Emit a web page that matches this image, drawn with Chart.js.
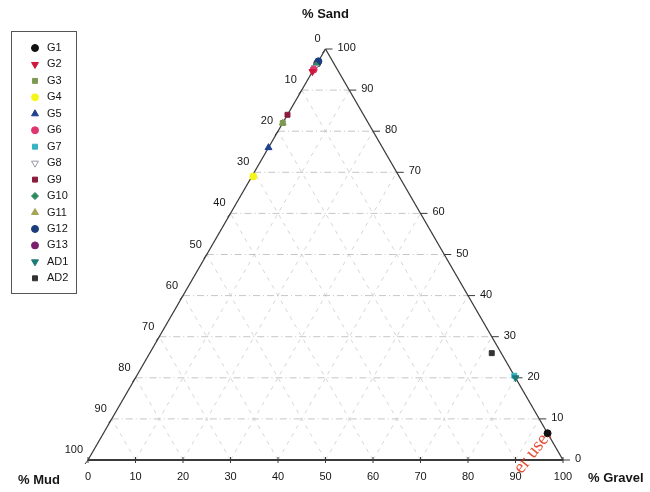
<!DOCTYPE html>
<html lang="en">
<head>
<meta charset="UTF-8">
<title>Ternary diagram - Sand / Gravel / Mud</title>
<script src="https://cdn.jsdelivr.net/npm/chart.js@4.4.0/dist/chart.umd.min.js"></script>
<style>
  body { margin: 0; background: #fff; }
  #box { position: relative; width: 650px; height: 492px; }
</style>
</head>
<body>
<div id="box"><canvas id="tri" width="650" height="492"></canvas></div>
<script>
/* ---------- samples (percent) ---------- */
const samples = ['G1', 'G2', 'G3', 'G4', 'G5', 'G6', 'G7', 'G8', 'G9', 'G10', 'G11', 'G12', 'G13', 'AD1', 'AD2'];
const sand    = [6.5, 94.5, 82, 69, 76, 95, 20.5, 95.5, 84, 96, 82, 97, 96.5, 20, 26];
const gravel  = [93.5, 0, 0, 0.3, 0, 0, 79.5, 0, 0, 0, 0, 0, 0, 80, 72];
const mud     = [0, 5.5, 18, 30.7, 24, 5, 0, 4.5, 16, 4, 18, 3, 3.5, 0, 2];
const tickValues = [0, 10, 20, 30, 40, 50, 60, 70, 80, 90, 100];

/* ---------- marker styles ---------- */
const markerFill   = ['#111111', '#d0173a', '#7d9a55', '#f5f51a', '#1f3f8f', '#e0356e', '#35b3c4', '#ffffff',
                      '#8a1c3c', '#2e8a5e', '#a3a455', '#1c3d7c', '#7a1f6e', '#1d7a78', '#333333'];
const markerBorder = ['#111111', '#d0173a', '#7d9a55', '#f5f51a', '#1f3f8f', '#e0356e', '#35b3c4', '#9a9aaa',
                      '#8a1c3c', '#2e8a5e', '#a3a455', '#1c3d7c', '#7a1f6e', '#1d7a78', '#333333'];
const markerShape  = ['circle', 'triangle', 'rect', 'circle', 'triangle', 'circle', 'rect', 'triangle',
                      'rect', 'rectRot', 'triangle', 'circle', 'circle', 'triangle', 'rect'];
const markerTurn   = [0, 180, 0, 0, 0, 0, 0, 180, 0, 0, 0, 0, 0, 180, 0];

const H = Math.sqrt(3) / 2;
const toXY = (s, g) => ({ x: g + s / 2, y: s * H });

const datasets = samples.map((name, i) => ({
  label: name,
  data: [toXY(sand[i], gravel[i])],
  backgroundColor: markerFill[i],
  borderColor: markerBorder[i],
  borderWidth: 1,
  pointStyle: markerShape[i],
  rotation: markerTurn[i],
  pointRadius: markerShape[i] === 'triangle' ? 4 : 3.5,
  order: name === 'G7' ? 1 : 0,   // keep AD1 on top of G7
  clip: false
}));

const FONT = '"Liberation Sans", Arial, sans-serif';

/* ---------- frame, grid, ticks, labels ---------- */
const ternaryFrame = {
  id: 'ternaryFrame',
  beforeDatasetsDraw(chart) {
    const c = chart.ctx, xs = chart.scales.x, ys = chart.scales.y;
    const pt = (s, g) => ({ x: xs.getPixelForValue(g + s / 2), y: ys.getPixelForValue(s * H) });
    const line = (a, b) => { c.beginPath(); c.moveTo(a.x, a.y); c.lineTo(b.x, b.y); c.stroke(); };
    c.save();

    // grid
    for (let v = 10; v < 100; v += 10) {
      c.strokeStyle = '#b8b8b8'; c.lineWidth = 0.8; c.setLineDash([7, 3, 1, 3]);
      line(pt(v, 0), pt(v, 100 - v));               // constant sand
      c.strokeStyle = '#cccccc'; c.setLineDash([4, 5]);
      line(pt(0, v), pt(100 - v, v));               // constant gravel
      line(pt(0, 100 - v), pt(100 - v, 0));         // constant mud
    }
    c.setLineDash([]);

    // triangle
    const A = pt(100, 0), L = pt(0, 0), R = pt(0, 100);
    c.strokeStyle = '#3a3a3a'; c.lineWidth = 1.3;
    line(A, L); line(A, R);
    c.lineWidth = 2; line(L, R);

    // ticks + numbers
    c.lineWidth = 1; c.fillStyle = '#151515'; c.font = '11px ' + FONT;
    tickValues.forEach(v => {
      // bottom: % Gravel
      const b = pt(0, v);
      line({ x: b.x, y: b.y - 3 }, { x: b.x, y: b.y + 3 });
      c.textAlign = 'center'; c.textBaseline = 'middle';
      c.fillText(String(v), b.x, b.y + 17);
      // right: % Sand
      const r = pt(v, 100 - v);
      line(r, { x: r.x + 7, y: r.y });
      c.textAlign = 'left';
      c.fillText(String(v), r.x + 12, r.y - 1);
      // left: % Mud
      const l = pt(100 - v, 0);
      line(l, { x: l.x - 3, y: l.y + 4 });
      c.textAlign = 'right';
      c.fillText(String(v), l.x - 5, l.y - 10);
    });

    // axis titles
    c.font = 'bold 13px ' + FONT;
    c.textAlign = 'center';
    c.fillText('% Sand', A.x, 14);
    c.textAlign = 'left';
    c.fillText('% Mud', 18, 480);
    c.fillText('% Gravel', 588, 478);
    c.restore();
  },
  afterDraw(chart) {
    const c = chart.ctx;
    c.save();
    // legend box
    c.strokeStyle = '#555'; c.lineWidth = 1;
    c.strokeRect(11.5, 31.5, 65, 262);
    c.font = '11px ' + FONT;
    c.textAlign = 'left'; c.textBaseline = 'middle';
    chart.data.datasets.forEach((ds, i) => {
      const y = 48 + i * 16.45;
      c.fillStyle = ds.backgroundColor; c.strokeStyle = ds.borderColor;
      Chart.helpers.drawPoint(c, { pointStyle: ds.pointStyle, rotation: ds.rotation, radius: ds.pointRadius, borderWidth: 1 }, 35, y);
      c.fillStyle = '#151515';
      c.fillText(ds.label, 47, y);
    });
    // watermark remnant
    c.translate(533, 452);
    c.rotate(-0.9);
    c.font = '19px "Liberation Serif", "DejaVu Serif", serif';
    c.fillStyle = 'rgba(226, 60, 30, 0.9)';
    c.textAlign = 'center';
    c.fillText('er use.', 0, 0);
    c.restore();
  }
};

new Chart(document.getElementById('tri'), {
  type: 'scatter',
  data: { datasets },
  plugins: [ternaryFrame],
  options: {
    responsive: false,
    animation: false,
    layout: { padding: { left: 88, right: 87, top: 49, bottom: 32 } },
    scales: {
      x: { type: 'linear', min: 0, max: 100, display: false },
      y: { type: 'linear', min: 0, max: 100 * H, display: false }
    },
    plugins: { legend: { display: false }, tooltip: { enabled: false } }
  }
});
</script>
</body>
</html>
